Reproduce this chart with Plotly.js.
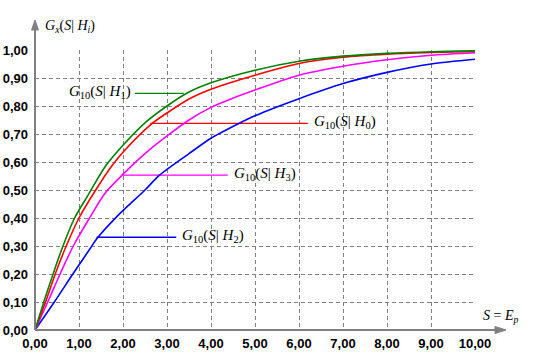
<!DOCTYPE html>
<html>
<head>
<meta charset="utf-8">
<script src="https://cdn.plot.ly/plotly-3.0.1.min.js"></script>
<style>html,body{margin:0;padding:0;background:#fff;}#chart{width:540px;height:360px;}</style>
</head>
<body>
<div id="chart"></div>
<script>
// ---- data ----
const sH1 = [0,0.2,0.4,0.6,0.9,1.2,1.6,2,2.5,3,3.5,4,5,6,7,8,9,10];
const gH1 = [0,0.1,0.195,0.285,0.4,0.48,0.585,0.66,0.74,0.8,0.85,0.883,0.928,0.96,0.978,0.988,0.994,0.997];

const sH0 = [0,0.24,0.46,0.71,1.0,1.38,1.74,2,2.65,3,3.5,4,5,6,7,8,9,10];
const gH0 = [0,0.1,0.2,0.3,0.4,0.5,0.585,0.635,0.736,0.775,0.825,0.86,0.91,0.952,0.974,0.985,0.991,0.995];

const sH3 = [0,0.29,0.57,0.87,1.24,1.6,1.98,2.5,3,3.5,4,4.5,5,6,7,8,9,10];
const gH3 = [0,0.1,0.2,0.3,0.4,0.49,0.553,0.63,0.693,0.75,0.795,0.828,0.857,0.91,0.942,0.965,0.981,0.99];

const sH2 = [0,0.44,0.86,1.25,1.4,1.86,2.5,2.83,3.5,4,4.6,5,6,7,8,9,10];
const gH2 = [0,0.1,0.2,0.29,0.325,0.405,0.5,0.553,0.63,0.685,0.735,0.765,0.826,0.88,0.92,0.95,0.967];

const xTicks = [0,1,2,3,4,5,6,7,8,9,10];
const yTicks = [0,0.1,0.2,0.3,0.4,0.5,0.6,0.7,0.8,0.9,1.0];

// curve labels and their leader lines (data coordinates)
const labelH1 = {text: '<i>G</i><sub>10</sub>(<i>S</i>| <i>H</i><sub>1</sub>)', x: [2.27, 3.38], y: 0.845, side: 'left'};
const labelH0 = {text: '<i>G</i><sub>10</sub>(<i>S</i>| <i>H</i><sub>0</sub>)', x: [2.62, 6.2], y: 0.738, side: 'right'};
const labelH3 = {text: '<i>G</i><sub>10</sub>(<i>S</i>| <i>H</i><sub>3</sub>)', x: [1.97, 4.38], y: 0.553, side: 'right'};
const labelH2 = {text: '<i>G</i><sub>10</sub>(<i>S</i>| <i>H</i><sub>2</sub>)', x: [1.40, 3.21], y: 0.331, side: 'right'};

const yTitle = '<i>G</i><sub><i>x</i></sub>(<i>S</i>| <i>H</i><sub><i>i</i></sub>)';
const xTitle = '<i>S</i> = <i>E</i><sub><i>p</i></sub>';

// ---- styles ----
const cGreen = '#008000', cRed = '#ff0000', cMag = '#ff00ff', cBlue = '#0000ff';
const gray = '#808080';
const serif = 'Liberation Serif, Times New Roman, serif';

function curve(x, y, color) {
  return {x: x, y: y, type: 'scatter', mode: 'lines',
    line: {color: color, width: 1.6, shape: 'spline', smoothing: 0.8},
    hoverinfo: 'skip', showlegend: false, cliponaxis: false};
}
function leader(lab, color) {
  return {x: lab.x, y: [lab.y, lab.y], type: 'scatter', mode: 'lines', line: {color: color, width: 1.4}, hoverinfo: 'skip', showlegend: false};
}
function labelAnn(lab) {
  const left = lab.side === 'left';
  return {
    x: left ? lab.x[0] : lab.x[1], y: lab.y, xref: 'x', yref: 'y',
    text: lab.text, showarrow: false,
    xanchor: left ? 'right' : 'left', yanchor: 'middle',
    xshift: left ? -2 : 4, yshift: 1,
    font: {family: serif, size: 15, color: '#000'}
  };
}

const traces = [
  leader(labelH2, cBlue),
  leader(labelH3, cMag),
  leader(labelH0, cRed),
  leader(labelH1, cGreen),
  curve(sH2, gH2, cBlue),
  curve(sH3, gH3, cMag),
  curve(sH0, gH0, cRed),
  curve(sH1, gH1, cGreen)
];

const W = 440, H = 280; // plot area in px
const px = p => p / W, py = p => p / H;

const tickFont = {family: 'Liberation Sans, Arial, sans-serif', size: 13, color: '#000', weight: 'bold'};

const layout = {
  width: 540, height: 360,
  margin: {l: 35, r: 65, t: 50, b: 30, pad: 0},
  paper_bgcolor: '#ffffff', plot_bgcolor: '#ffffff',
  separators: ', ',
  showlegend: false,
  xaxis: {
    range: [0, 10], tickmode: 'array', tickvals: xTicks, tickformat: '.2f',
    showgrid: true, gridcolor: gray, griddash: '4px,3px', gridwidth: 1,
    zeroline: false, showline: false, ticks: '', ticklabelstandoff: 4,
    tickfont: tickFont, fixedrange: true, automargin: false
  },
  yaxis: {
    range: [0, 1], tickmode: 'array', tickvals: yTicks, tickformat: '.2f',
    showgrid: true, gridcolor: gray, griddash: '4px,3px', gridwidth: 1,
    zeroline: false, showline: false, ticks: '', ticklabelstandoff: 6,
    tickfont: tickFont, fixedrange: true, automargin: false
  },
  shapes: [
    // x axis with arrow
    {type: 'line', xref: 'paper', yref: 'paper', x0: 0, y0: 0, x1: px(464), y1: 0, line: {color: gray, width: 2}},
    {type: 'path', xref: 'paper', yref: 'paper',
      path: `M ${px(460)} ${py(3.5)} L ${px(471)} 0 L ${px(460)} ${-py(3.5)} Z`,
      fillcolor: gray, line: {color: gray, width: 1}},
    // y axis with arrow
    {type: 'line', xref: 'paper', yref: 'paper', x0: 0, y0: 0, x1: 0, y1: py(302), line: {color: gray, width: 2}},
    {type: 'path', xref: 'paper', yref: 'paper',
      path: `M ${-px(3.5)} ${py(300)} L 0 ${py(310)} L ${px(3.5)} ${py(300)} Z`,
      fillcolor: gray, line: {color: gray, width: 1}}
  ],
  annotations: [
    labelAnn(labelH1), labelAnn(labelH0), labelAnn(labelH3), labelAnn(labelH2),
    {xref: 'paper', yref: 'paper', x: px(8), y: py(304), xanchor: 'left', yanchor: 'middle',
      text: yTitle, showarrow: false, font: {family: serif, size: 14, color: '#000'}},
    {xref: 'paper', yref: 'paper', x: px(446), y: py(14), xanchor: 'left', yanchor: 'middle',
      text: xTitle, showarrow: false, font: {family: serif, size: 14, color: '#000'}}
  ]
};

Plotly.newPlot('chart', traces, layout, {staticPlot: true, displayModeBar: false});
</script>
</body>
</html>
